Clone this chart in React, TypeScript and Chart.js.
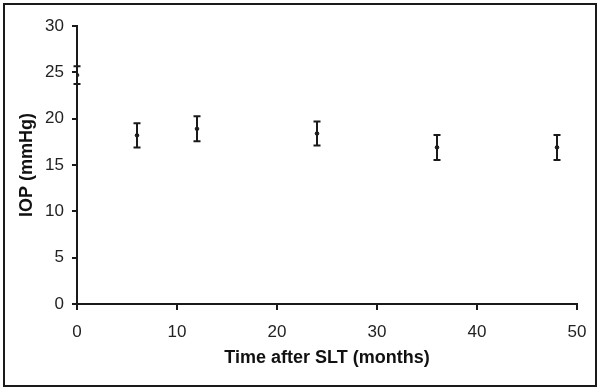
import React, { useEffect, useRef } from "react";
import { Chart, registerables } from "chart.js";

Chart.register(...registerables);

const months = [0, 6, 12, 24, 36, 48];
const meanIOP = [24.7, 18.2, 18.9, 18.4, 16.9, 16.9];
const errIOP = [0.95, 1.3, 1.35, 1.3, 1.35, 1.35];
const xTitle = "Time after SLT (months)";
const yTitle = "IOP (mmHg)";

const INK = "#1a1a1a";
const FONT = "'Liberation Sans', Arial, sans-serif";

const errorBarPlugin = {
  id: "errorBars",
  afterDatasetsDraw(chart: any) {
    const ctx = chart.ctx;
    const xs = chart.scales.x;
    const ys = chart.scales.y;
    ctx.save();
    ctx.strokeStyle = INK;
    ctx.lineWidth = 2;
    months.forEach((m, i) => {
      const px = xs.getPixelForValue(m);
      const top = ys.getPixelForValue(meanIOP[i] + errIOP[i]);
      const bot = ys.getPixelForValue(meanIOP[i] - errIOP[i]);
      ctx.beginPath();
      ctx.moveTo(px, top);
      ctx.lineTo(px, bot);
      ctx.moveTo(px - 3.5, top);
      ctx.lineTo(px + 3.5, top);
      ctx.moveTo(px - 3.5, bot);
      ctx.lineTo(px + 3.5, bot);
      ctx.stroke();
    });
    ctx.restore();
  },
};

const framePlugin = {
  id: "frame",
  beforeDraw(chart: any) {
    const ctx = chart.ctx;
    ctx.save();
    ctx.fillStyle = "#ffffff";
    ctx.fillRect(0, 0, chart.width, chart.height);
    ctx.strokeStyle = INK;
    ctx.lineWidth = 2;
    ctx.strokeRect(4, 4, 592, 382);
    ctx.restore();
  },
};

export default function App() {
  const ref = useRef<HTMLCanvasElement | null>(null);

  useEffect(() => {
    document.body.style.margin = "0";
    const canvas = ref.current;
    if (!canvas) return;
    const chart = new Chart(canvas, {
      type: "scatter",
      data: {
        datasets: [
          {
            label: "IOP",
            data: months.map((m, i) => ({ x: m, y: meanIOP[i] })),
            backgroundColor: INK,
            borderColor: INK,
            pointRadius: 1.8,
            pointHoverRadius: 1.8,
          },
        ],
      },
      options: {
        animation: false,
        responsive: false,
        layout: { padding: { left: 0, right: 23, top: 26, bottom: 0 } },
        plugins: {
          legend: { display: false },
          tooltip: { enabled: false },
        },
        scales: {
          x: {
            type: "linear",
            min: 0,
            max: 50,
            afterFit(scale: any) {
              scale.height = 85;
            },
            ticks: {
              stepSize: 10,
              color: "#222",
              font: { family: FONT, size: 17 },
              padding: 12,
              maxRotation: 0,
            },
            grid: {
              display: true,
              drawOnChartArea: false,
              drawTicks: true,
              tickLength: 6,
              color: INK,
              lineWidth: 2,
            },
            border: { display: true, color: INK, width: 2 },
            title: {
              display: true,
              text: xTitle,
              color: "#111",
              font: { family: FONT, size: 18, weight: "bold" },
              padding: { top: 4, bottom: 20 },
            },
          },
          y: {
            type: "linear",
            min: 0,
            max: 30,
            afterFit(scale: any) {
              scale.width = 77;
            },
            ticks: {
              stepSize: 5,
              color: "#222",
              font: { family: FONT, size: 17 },
              padding: 8,
            },
            grid: {
              display: true,
              drawOnChartArea: false,
              drawTicks: true,
              tickLength: 5,
              color: INK,
              lineWidth: 2,
            },
            border: { display: true, color: INK, width: 2 },
            title: {
              display: true,
              text: yTitle,
              color: "#111",
              font: { family: FONT, size: 18, weight: "bold" },
              padding: { top: 16, bottom: 0 },
            },
          },
        },
      },
      plugins: [framePlugin, errorBarPlugin],
    });
    return () => chart.destroy();
  }, []);

  return (
    <div style={{ width: 600, height: 389 }}>
      <canvas ref={ref} width={600} height={389} style={{ display: "block" }} />
    </div>
  );
}
